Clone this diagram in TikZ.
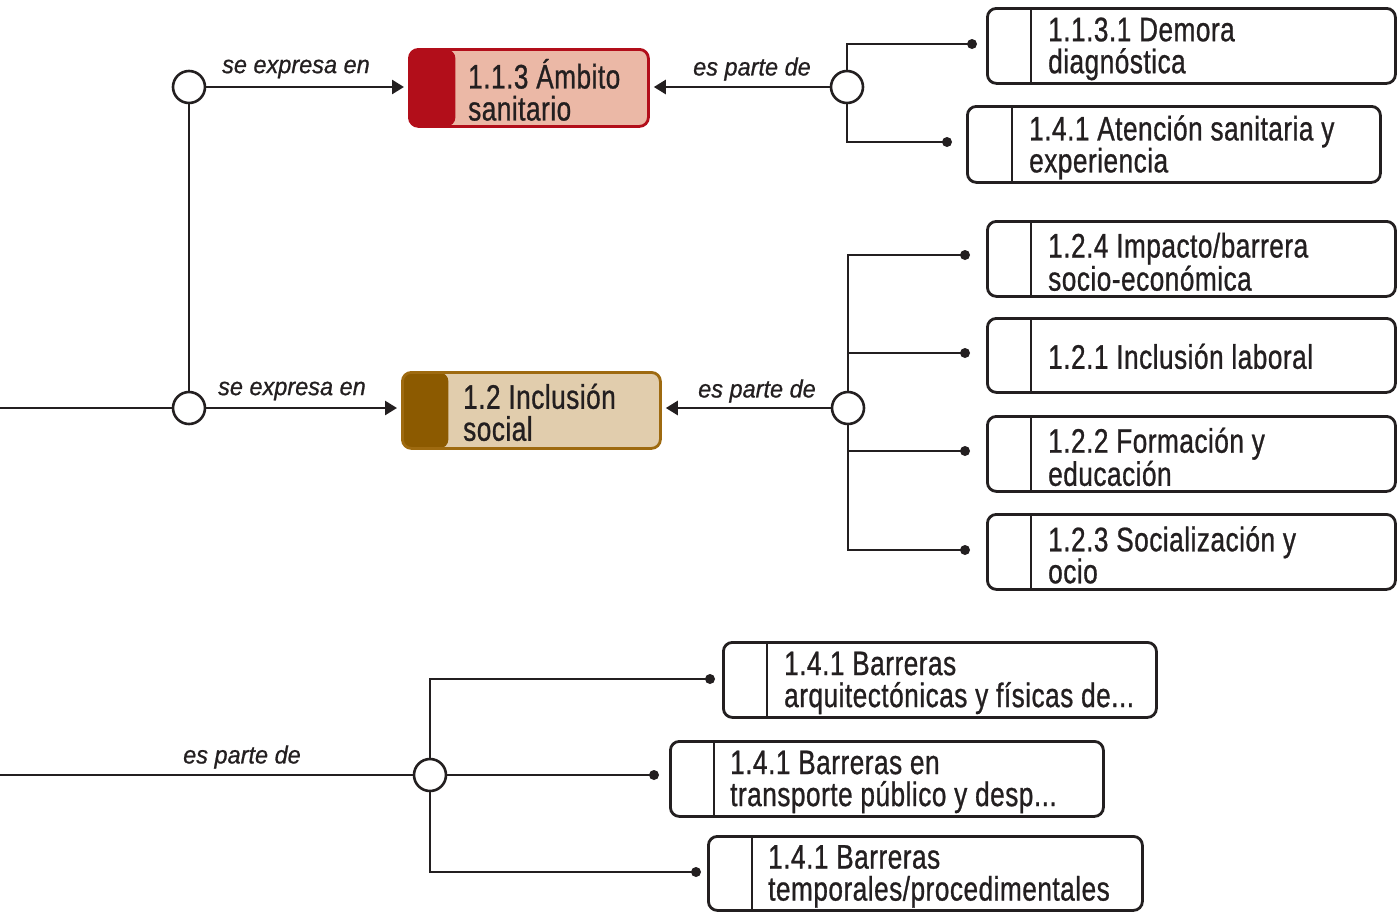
\documentclass[tikz,border=0pt]{standalone}
\usepackage{fontspec}
\newfontfamily\boxfont{Liberation Sans}[FakeStretch=0.77,FakeBold=0.8,LetterSpace=1.5]
\newfontfamily\lblfont{Liberation Sans}[FakeStretch=0.94,FakeBold=0.8]
\usetikzlibrary{arrows.meta,calc}
\definecolor{ink}{HTML}{231F20}
\definecolor{redstrip}{HTML}{B20E1A}
\definecolor{redfill}{HTML}{EBB8A6}
\definecolor{brstrip}{HTML}{8C5A00}
\definecolor{brfill}{HTML}{E1CDAD}
\definecolor{brborder}{HTML}{9E6A10}
\begin{document}
\begin{tikzpicture}[x=1pt,y=-1pt,
  conn/.style={draw=ink, line width=2.6pt},
  arr/.style={conn, -{Triangle[length=12pt,width=14pt]}, shorten >=4pt},
  hub/.style={circle, draw=ink, line width=2.6pt, fill=white, minimum size=32pt, inner sep=0pt},
  dotn/.style={circle, fill=ink, inner sep=0pt, minimum size=10pt},
  leaf/.style={draw=ink, line width=2.8pt, rounded corners=9pt, inner sep=0pt, anchor=north west, minimum height=75pt},
  topic/.style={line width=2.8pt, rounded corners=9pt, inner sep=0pt, anchor=north west},
  txt/.style={font=\boxfont\fontsize{34}{32}\selectfont, text=ink, align=left, anchor=west, inner sep=0pt},
  lbl/.style={font=\lblfont\itshape\fontsize{25}{27}\selectfont, text=ink, inner sep=0pt}
]
\useasboundingbox (0,0) rectangle (1397,911);

% hubs
\node[hub] (c1) at (189,87) {};
\node[hub] (c2) at (847,87) {};
\node[hub] (c3) at (189,408) {};
\node[hub] (c4) at (848,408) {};
\node[hub] (c5) at (430,775) {};

% topic boxes
\node[topic, draw=redstrip, fill=redfill, minimum width=239pt, minimum height=77pt,
  path picture={\fill[redstrip] (path picture bounding box.north west) rectangle ($(path picture bounding box.south west)+(46,0)$);}]
  (m1) at (408,48) {};
\node[txt] (tm1) at ($(m1.west)+(60,2)$) {1.1.3 Ámbito\\sanitario};
\node[topic, draw=brborder, fill=brfill, minimum width=258pt, minimum height=76pt,
  path picture={\fill[brstrip] (path picture bounding box.north west) rectangle ($(path picture bounding box.south west)+(46,0)$);}]
  (m2) at (401,371) {};
\node[txt] (tm2) at ($(m2.west)+(62,2)$) {1.2 Inclusión\\social};

% leaf boxes
\node[leaf, minimum width=408pt] (b1) at (986,7) {};
\node[leaf, minimum width=413pt, minimum height=76pt] (b2) at (966,105) {};
\node[leaf, minimum width=408pt] (b3) at (986,220) {};
\node[leaf, minimum width=408pt, minimum height=74pt] (b4) at (986,317) {};
\node[leaf, minimum width=408pt] (b5) at (986,415) {};
\node[leaf, minimum width=408pt] (b6) at (986,513) {};
\node[leaf, minimum width=433pt] (b7) at (722,641) {};
\node[leaf, minimum width=433pt] (b8) at (669,740) {};
\node[leaf, minimum width=434pt, minimum height=74pt] (b9) at (707,835) {};

\foreach \b/\d in {b1/45,b2/46,b3/45,b4/45,b5/45,b6/45,b7/45,b8/45,b9/45}{
  \draw[ink, line width=2.8pt] ($(\b.north west)+(\d,0)$) -- ($(\b.south west)+(\d,0)$);
}

\node[txt] (t1) at ($(b1.west)+(62,3)$) {1.1.3.1 Demora\\diagnóstica};
\node[txt] (t2) at ($(b2.west)+(63,3)$) {1.4.1 Atención sanitaria y\\experiencia};
\node[txt] (t3) at ($(b3.west)+(62,3)$) {1.2.4 Impacto/barrera\\socio-económica};
\node[txt] (t4) at ($(b4.west)+(62,1)$) {1.2.1 Inclusión laboral};
\node[txt] (t5) at ($(b5.west)+(62,3)$) {1.2.2 Formación y\\educación};
\node[txt] (t6) at ($(b6.west)+(62,3)$) {1.2.3 Socialización y\\ocio};
\node[txt] (t7) at ($(b7.west)+(62,3)$) {1.4.1 Barreras\\arquitectónicas y físicas de...};
\node[txt] (t8) at ($(b8.west)+(61,3)$) {1.4.1 Barreras en\\transporte público y desp...};
\node[txt] (t9) at ($(b9.west)+(61,3)$) {1.4.1 Barreras\\temporales/procedimentales};

% dots
\node[dotn] (d1) at (972,44) {};
\node[dotn] (d2) at (947,142) {};
\node[dotn] (d3) at (965,255) {};
\node[dotn] (d4) at (965,353) {};
\node[dotn] (d5) at (965,451) {};
\node[dotn] (d6) at (965,550) {};
\node[dotn] (d7) at (710,679) {};
\node[dotn] (d8) at (654,775) {};
\node[dotn] (d9) at (696,872) {};

\coordinate (L1) at (0,408);
\coordinate (L2) at (0,775);

% connectors
\draw[conn] (L1) -- (c3.west);
\draw[conn] (c1.south) -- (c3.north);
\draw[arr] (c1.east) -- (c1.east -| m1.west);
\draw[arr] (c3.east) -- (c3.east -| m2.west);
\draw[arr] (c2.west) -- (c2.west -| m1.east);
\draw[arr] (c4.west) -- (c4.west -| m2.east);
\draw[conn] (c2.north) |- (d1.center);
\draw[conn] (c2.south) |- (d2.center);
\draw[conn] (c4.north) |- (d3.center);
\draw[conn] (c4.south) |- (d6.center);
\draw[conn] (d4.center -| c4) -- (d4.center);
\draw[conn] (d5.center -| c4) -- (d5.center);
\draw[conn] (L2) -- (c5.west);
\draw[conn] (c5.north) |- (d7.center);
\draw[conn] (c5.south) |- (d9.center);
\draw[conn] (c5.east) -- (d8.center);

% labels
\node[lbl] (l1) at (296,69) {se expresa en};
\node[lbl] (l2) at (292,391) {se expresa en};
\node[lbl] (l3) at (752,69) {es parte de};
\node[lbl] (l4) at (757,391) {es parte de};
\node[lbl] (l5) at (242,757) {es parte de};
\end{tikzpicture}
\end{document}
